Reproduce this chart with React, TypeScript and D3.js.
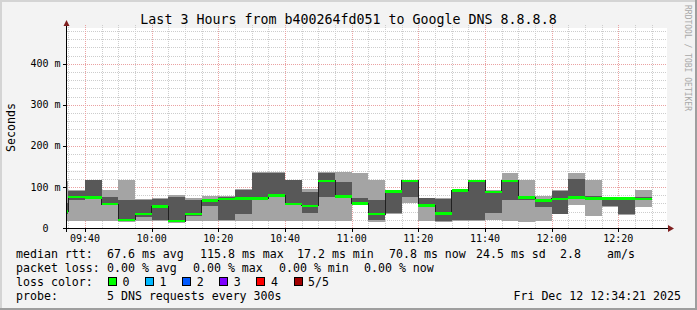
import React from "react";
import * as d3 from "d3";

const stepEnds = ["09:35","09:40","09:45","09:50","09:55","10:00","10:05","10:10","10:15","10:20","10:25","10:30","10:35","10:40","10:45","10:50","10:55","11:00","11:05","11:10","11:15","11:20","11:25","11:30","11:35","11:40","11:45","11:50","11:55","12:00","12:05","12:10","12:15","12:20","12:25","12:30"];
const ping1 = [18,17,17,17,15,18,17,13,17,18,17,16,17,17,17,17,17,17,55,15,35,60,17,15,17,16,20,17,15,18,34,55,30,52,32,50];
const ping2 = [35,69,72,56,17,27,20,15,30,53,19,33,70,75,57,36,75,75,57,20,37,75,52,17,19,20,36,69,67,51,35,73,70,53,33,68];
const median = [40,76,74,58,20,34,52,17,34,67,70,72,72,79,59,54,115,77,60,34,89,115,55,35,91,115,87,115,74,67,71,74,72,72,72,71];
const ping4 = [60,91,116,75,69,68,70,76,69,69,75,93,135,134,116,88,135,113,74,69,91,116,72,70,93,117,90,117,76,69,91,119,77,73,73,76];
const ping5 = [115,93,117,93,116,70,73,80,74,78,77,94,136,136,117,94,136,136,135,116,92,117,74,72,94,118,92,135,117,78,92,135,117,74,74,93];

const yMajorTicks = [0, 100, 200, 300, 400];
const xLabelTimes = ["09:40","10:00","10:20","10:40","11:00","11:20","11:40","12:00","12:20"];
const lossLabels = ["0", "1", "2", "3", "4", "5/5"];
const lossColors = ["#00ff00", "#00b8ff", "#0059ff", "#7e00ff", "#ff0000", "#a10000"];

const titleText = "Last 3 Hours from b400264fd051 to Google DNS 8.8.8.8";
const rttLabel = "median rtt:";
const rttItems = ["67.6 ms avg", "115.8 ms max", "17.2 ms min", "70.8 ms now", "24.5 ms sd", "2.8", "am/s"];
const lossLabel = "packet loss:";
const lossItems = ["0.00 % avg", "0.00 % max", "0.00 % min", "0.00 % now"];
const probeLabel = "probe:";
const probeText = "5 DNS requests every 300s";
const dateText = "Fri Dec 12 12:34:21 2025";

const W = 697, H = 310;
const L = 67, R = 667, T = 28, B = 228;
const FONT = "'DejaVu Sans Mono', monospace";

const toDate = (s: string) => {
  const [h, m] = s.split(":").map(Number);
  return new Date(2025, 11, 12, h, m, 0);
};

export default function App() {
  const x = d3.scaleTime()
    .domain([new Date(2025, 11, 12, 9, 34, 36), new Date(2025, 11, 12, 12, 34, 36)])
    .range([L, R]);
  const y = d3.scaleLinear().domain([0, 487]).range([B, T]);
  const STEP = 5 * 60 * 1000;

  const cols = stepEnds.map((s, i) => {
    const end = toDate(s);
    const start = new Date(end.getTime() - STEP);
    return { x0: Math.max(L, x(start)), x1: x(end), i };
  });

  const minorY = d3.range(20, 487, 20).filter((v) => v % 100 !== 0);
  const majorY = yMajorTicks.filter((v) => v > 0);
  const minorX = d3.timeMinute.every(5)!.range(x.domain()[0], x.domain()[1]).filter((d) => d.getMinutes() % 20 !== 0);
  const majorX = xLabelTimes.map(toDate);

  const px = (v: number) => Math.round(v) + 0.5;

  const linePts: [number, number][] = cols.map((c) => [c.x0, y(median[c.i])]);
  linePts.push([cols[cols.length - 1].x1, y(median[median.length - 1])]);
  const medLine = d3.line().curve(d3.curveStepAfter)(linePts) || "";

  const rttX = [107, 200, 297, 389, 476, 560, 607];
  const lossX = [107, 193, 279, 364];

  return (
    <svg width={W} height={H} style={{ position: "absolute", left: 0, top: 0 }} fontFamily={FONT}>
      <rect x={0} y={0} width={W} height={H} fill="#f3f3f3" />
      <rect x={0} y={0} width={W} height={2} fill="#d4d4d4" />
      <rect x={0} y={0} width={2} height={H} fill="#d4d4d4" />
      <rect x={W - 2} y={0} width={2} height={H} fill="#9e9e9e" />
      <rect x={0} y={H - 2} width={W} height={2} fill="#9e9e9e" />
      <rect x={L} y={T} width={R - L} height={B - T} fill="#ffffff" />

      <text x={W / 2} y={24} textAnchor="middle" fontSize={13.3} fill="#000">{titleText}</text>
      <text transform={`translate(685,5) rotate(90)`} fontSize={8} fill="#a8a8a8">RRDTOOL / TOBI OETIKER</text>
      <text transform={`translate(15,127.5) rotate(-90)`} textAnchor="middle" fontSize={11.6} fill="#000">Seconds</text>

      <g shapeRendering="crispEdges">
        {minorY.map((v) => (
          <line key={"my" + v} x1={L} x2={R} y1={px(y(v))} y2={px(y(v))} stroke="#cdcdcd" strokeDasharray="1,1" />
        ))}
        {minorX.map((d, k) => (
          <line key={"mx" + k} x1={px(x(d))} x2={px(x(d))} y1={T - 3} y2={B} stroke="#cdcdcd" strokeDasharray="1,1" />
        ))}
        {majorY.map((v) => (
          <line key={"My" + v} x1={L} x2={R} y1={px(y(v))} y2={px(y(v))} stroke="#eaa2a2" strokeDasharray="1,1" />
        ))}
        {majorX.map((d, k) => (
          <line key={"Mx" + k} x1={px(x(d))} x2={px(x(d))} y1={T - 3} y2={B} stroke="#eaa2a2" strokeDasharray="1,1" />
        ))}
      </g>

      <defs>
        <clipPath id="plotclip">
          <rect x={L} y={T - 5} width={R - L} height={B - T + 5} />
        </clipPath>
      </defs>
      <g clipPath="url(#plotclip)" shapeRendering="crispEdges">
        {cols.map((c) => (
          <rect key={"l" + c.i} x={c.x0} width={c.x1 - c.x0} y={y(ping5[c.i])} height={y(ping1[c.i]) - y(ping5[c.i])} fill="#a4a4a4" />
        ))}
        {cols.map((c) => (
          <rect key={"d" + c.i} x={c.x0} width={c.x1 - c.x0} y={y(ping4[c.i])} height={y(ping2[c.i]) - y(ping4[c.i])} fill="#585858" />
        ))}
        <path d={medLine} fill="none" stroke="#202020" strokeWidth={1} />
        {cols.map((c) => (
          <rect key={"m" + c.i} x={c.x0} width={c.x1 - c.x0} y={y(median[c.i]) - 1.2} height={2.4} fill="#00ff00" />
        ))}
      </g>

      <g shapeRendering="crispEdges">
        <line x1={63} x2={670} y1={228.5} y2={228.5} stroke="#000" />
        <line x1={66.5} x2={66.5} y1={232} y2={25} stroke="#000" />
        {yMajorTicks.map((v) => (
          <line key={"yt" + v} x1={63} x2={67} y1={px(y(v))} y2={px(y(v))} stroke="#000" />
        ))}
        {majorX.map((d, k) => (
          <line key={"xt" + k} x1={px(x(d))} x2={px(x(d))} y1={228} y2={232} stroke="#000" />
        ))}
      </g>
      <path d="M668,225 L674,228.5 L668,232 Z" fill="#7f1f1f" />
      <path d="M63.5,26 L66.5,20 L69.5,26 Z" fill="#7f1f1f" />

      {yMajorTicks.map((v) => (
        <text key={"yl" + v} x={v === 0 ? 48.5 : 60.5} y={y(v) + 3.6} textAnchor="end" fontSize={10} fill="#000">
          {v === 0 ? "0" : `${v} m`}
        </text>
      ))}
      {majorX.map((d, k) => (
        <text key={"xl" + k} x={x(d)} y={242} textAnchor="middle" fontSize={10} fill="#000">
          {xLabelTimes[k]}
        </text>
      ))}

      <g fontSize={11.6} fill="#000">
        <text x={16} y={258}>{rttLabel}</text>
        {rttItems.map((s, k) => (
          <text key={"r" + k} x={rttX[k]} y={258}>{s}</text>
        ))}
        <text x={16} y={272}>{lossLabel}</text>
        {lossItems.map((s, k) => (
          <text key={"p" + k} x={lossX[k]} y={272}>{s}</text>
        ))}
        <text x={16} y={286}>{"loss color:"}</text>
        {lossLabels.map((s, k) => (
          <g key={"lc" + k}>
            <rect x={108.5 + k * 37.1} y={277.5} width={8} height={8} fill={lossColors[k]} stroke="#000" shapeRendering="crispEdges" />
            <text x={122.5 + k * 37.1} y={286}>{s}</text>
          </g>
        ))}
        <text x={16} y={300}>{probeLabel}</text>
        <text x={107} y={300}>{probeText}</text>
        <text x={681} y={300} textAnchor="end">{dateText}</text>
      </g>
    </svg>
  );
}
